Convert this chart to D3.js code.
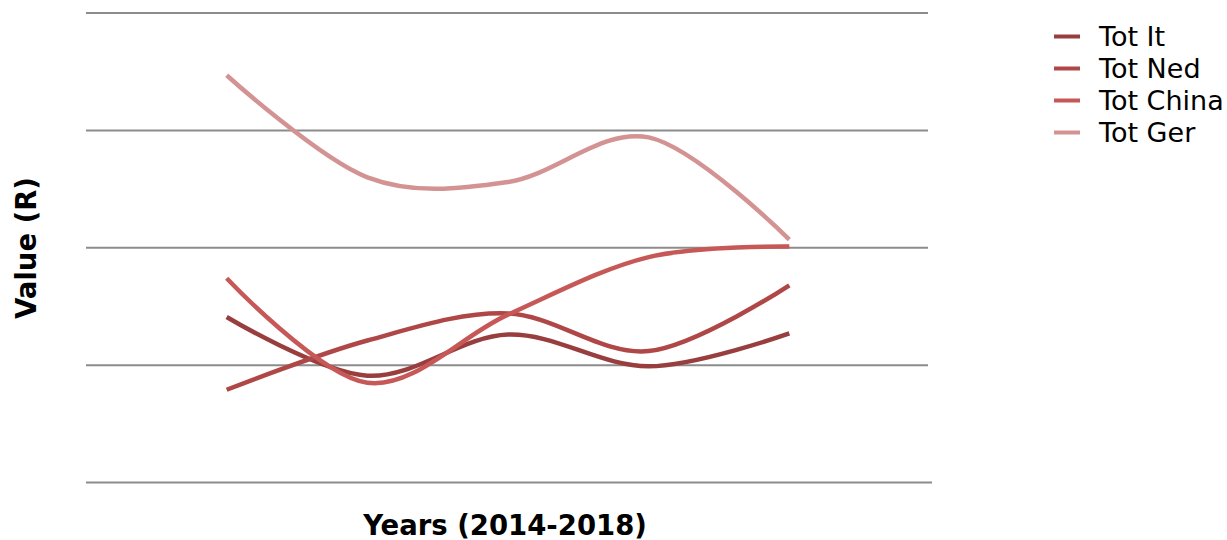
<!DOCTYPE html>
<html>
<head>
<meta charset="utf-8">
<script src="https://cdn.jsdelivr.net/npm/d3@7/dist/d3.min.js"></script>
<style>
  html, body { margin: 0; padding: 0; background: #fff; }
  svg { display: block; }
  text { font-family: "DejaVu Sans", Verdana, sans-serif; }
</style>
</head>
<body>
<svg id="chart" width="1227" height="540"></svg>
<script>
// Years on the horizontal axis
const years = ["2014", "2015", "2016", "2017", "2018"];

// Series values per year
const totIt    = [14.1, 9.1, 12.6, 9.9, 12.7];
const totNed   = [7.9, 12.1, 14.4, 11.2, 16.8];
const totChina = [17.4, 8.5, 14.3, 19.2, 20.1];
const totGer   = [34.7, 26.0, 25.6, 29.4, 20.7];

const seriesNames = ["Tot It", "Tot Ned", "Tot China", "Tot Ger"];
const seriesColors = ["#993e3e", "#b04747", "#c65957", "#d49393"];

// Gridline values
const gridValues = [0, 10, 20, 30, 40];

const series = [totIt, totNed, totChina, totGer].map((vals, i) => ({
  name: seriesNames[i],
  color: seriesColors[i],
  values: vals.map((v, j) => ({ year: years[j], value: v }))
}));

const svg = d3.select("#chart");
const plot = { left: 86, right: 930, top: 13, bottom: 482.5 };

const x = d3.scalePoint().domain(years).range([plot.left, plot.right]).padding(1);
const y = d3.scaleLinear().domain([0, 40]).range([plot.bottom, plot.top]);

// Horizontal gridlines
svg.append("g")
  .selectAll("line")
  .data(gridValues)
  .join("line")
  .attr("x1", plot.left)
  .attr("x2", d => d === 0 ? plot.right + 2 : plot.right - 2)
  .attr("y1", d => y(d))
  .attr("y2", d => y(d))
  .attr("stroke", "#8c8c8c")
  .attr("stroke-width", 2);

// Smoothed series lines
const line = d3.line()
  .x(d => x(d.year))
  .y(d => y(d.value))
  .curve(d3.curveCardinal.tension(0));

svg.append("g")
  .selectAll("path")
  .data(series)
  .join("path")
  .attr("fill", "none")
  .attr("stroke", d => d.color)
  .attr("stroke-width", 4.5)
  .attr("d", d => line(d.values));

// Axis titles
svg.append("text")
  .attr("x", 505)
  .attr("y", 535)
  .attr("text-anchor", "middle")
  .attr("font-weight", "bold")
  .attr("font-size", 27.5)
  .attr("fill", "#000")
  .text("Years (2014-2018)");

svg.append("text")
  .attr("transform", "translate(36,248) rotate(-90)")
  .attr("text-anchor", "middle")
  .attr("font-weight", "bold")
  .attr("font-size", 27.5)
  .attr("fill", "#000")
  .text("Value (R)");

// Legend
const legend = svg.append("g").attr("transform", "translate(1054,36.5)");
const item = legend.selectAll("g")
  .data(series)
  .join("g")
  .attr("transform", (d, i) => `translate(0,${i * 32})`);

item.append("line")
  .attr("x1", 0).attr("x2", 26)
  .attr("y1", 0).attr("y2", 0)
  .attr("stroke", d => d.color)
  .attr("stroke-width", 4);

item.append("text")
  .attr("x", 45)
  .attr("y", 0)
  .attr("dy", "0.35em")
  .attr("font-size", 27)
  .attr("fill", "#000")
  .text(d => d.name);
</script>
</body>
</html>
